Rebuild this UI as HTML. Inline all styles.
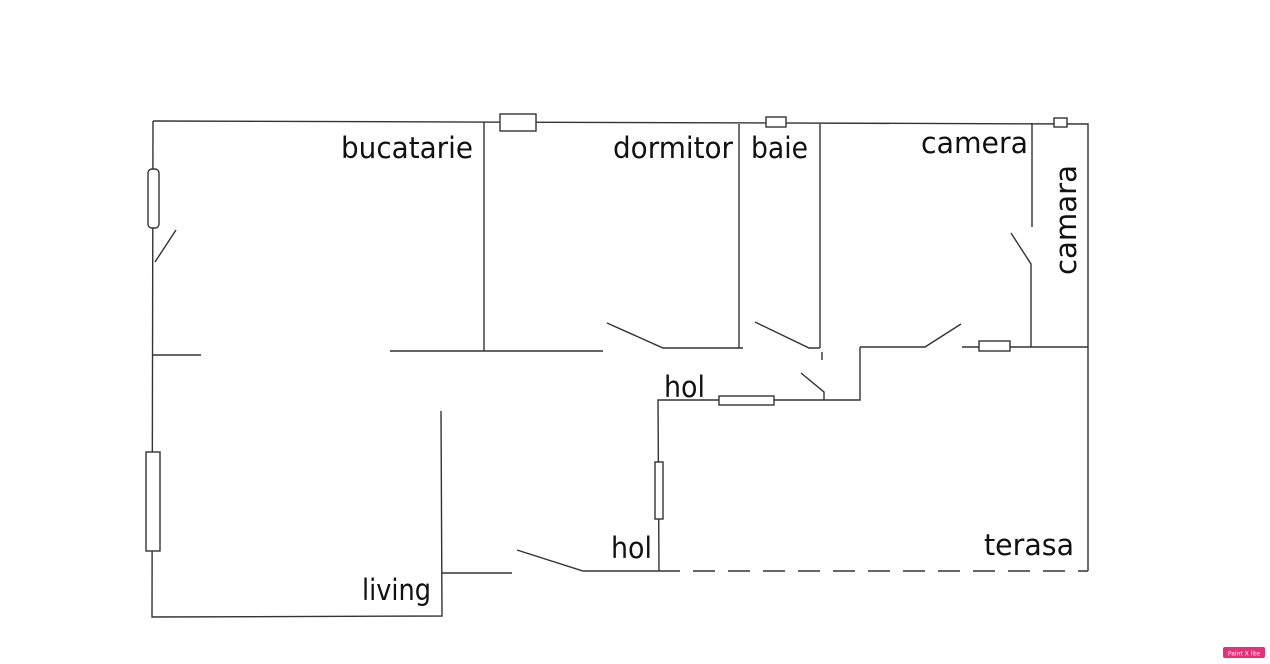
<!DOCTYPE html>
<html><head><meta charset="utf-8"><style>
html,body{margin:0;padding:0;background:#fff;}
svg{display:block;}
text{font-family:"DejaVu Sans","Liberation Sans",sans-serif;fill:#111;}
</style></head><body>
<svg width="1270" height="664" viewBox="0 0 1270 664" xmlns="http://www.w3.org/2000/svg">
<g stroke="#333" stroke-width="1.4" fill="none">
<path d="M153 121 L1088 124 L1088 571"/>
<path d="M153 121 L152 617 L442 616 L441 411"/>
<rect x="148" y="169" width="11" height="59" rx="4" fill="#fff"/>
<line x1="155" y1="262" x2="176" y2="230"/>
<line x1="153" y1="355" x2="201" y2="355"/>
<rect x="146" y="452" width="14" height="99" fill="#fff"/>
<line x1="442" y1="573" x2="512" y2="573"/>
<path d="M517 550 L583 571 L658 571"/>
<line x1="658" y1="571" x2="1088" y2="571" stroke-dasharray="22 13"/>
<line x1="484" y1="122" x2="484" y2="351"/>
<line x1="390" y1="351" x2="603" y2="351"/>
<rect x="500" y="114" width="36" height="17" fill="#fff"/>
<path d="M607 323 L663 348 L743 348"/>
<line x1="739" y1="124" x2="739" y2="348"/>
<rect x="766" y="117" width="20" height="10" fill="#fff"/>
<path d="M755 322 L809 348 L820 348"/>
<line x1="820" y1="124" x2="820" y2="348"/>
<line x1="822" y1="352" x2="822" y2="360"/>
<path d="M860 347 L860 400 L658 400 L659 571"/>
<rect x="719" y="396" width="55" height="9" fill="#fff"/>
<path d="M801 373 L824 392 L824 400"/>
<rect x="655" y="462" width="8" height="57" fill="#fff"/>
<path d="M860 347 L925 347 L961 324"/>
<line x1="962" y1="347" x2="1088" y2="347"/>
<rect x="979" y="341" width="31" height="10" fill="#fff"/>
<line x1="1032" y1="123" x2="1032" y2="227"/>
<path d="M1011 233 L1031 264 L1031 347"/>
<rect x="1054" y="118" width="13" height="9" fill="#fff"/>
</g>
<g font-size="29">
<text x="341" y="158" textLength="132" lengthAdjust="spacingAndGlyphs">bucatarie</text>
<text x="613" y="158" textLength="120" lengthAdjust="spacingAndGlyphs">dormitor</text>
<text x="751" y="158" textLength="57" lengthAdjust="spacingAndGlyphs">baie</text>
<text x="921" y="153" textLength="107" lengthAdjust="spacingAndGlyphs">camera</text>
<text x="664" y="397" textLength="41" lengthAdjust="spacingAndGlyphs">hol</text>
<text x="611" y="558" textLength="41" lengthAdjust="spacingAndGlyphs">hol</text>
<text x="984" y="555" textLength="90" lengthAdjust="spacingAndGlyphs">terasa</text>
<text x="362" y="600" textLength="69" lengthAdjust="spacingAndGlyphs">living</text>
<text transform="translate(1076,275) rotate(-90)" textLength="110" lengthAdjust="spacingAndGlyphs">camara</text>
</g>
<rect x="1223" y="647" width="42" height="11" rx="2" fill="#e8307a"/>
<text x="1244" y="655.5" font-size="6" text-anchor="middle" style="fill:#fff">Paint X lite</text>
</svg>
</body></html>
